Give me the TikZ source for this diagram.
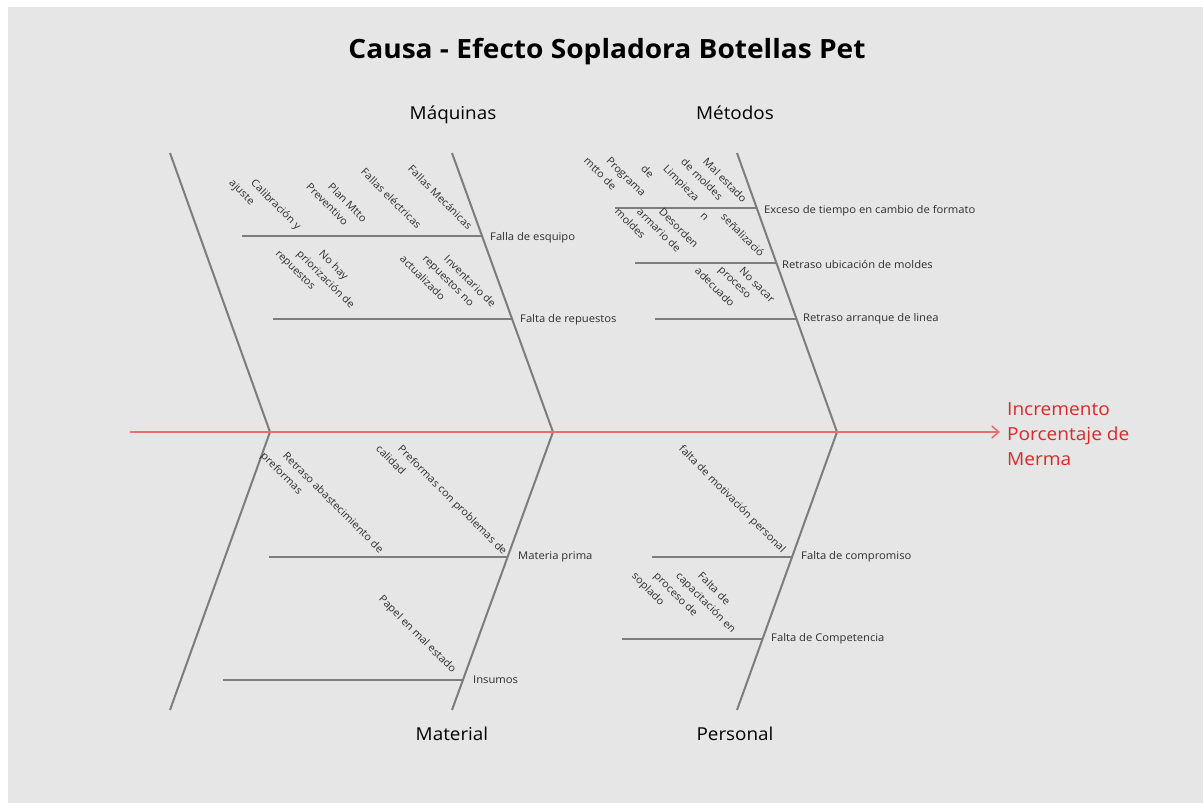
\documentclass[tikz,border=0pt]{standalone}
\usepackage{fontspec}
\setmainfont{Open Sans}[FakeStretch=1.06]
\usetikzlibrary{arrows.meta}
\definecolor{bg}{RGB}{230,230,230}
\definecolor{bone}{RGB}{125,125,125}
\definecolor{spine}{RGB}{235,110,110}
\definecolor{effred}{RGB}{222,40,40}
\definecolor{lbl}{RGB}{45,45,45}
\newcommand\causetext[4]{%
  \foreach \ln [count=\i from 0] in {#4} {
    \node[subtext] (#1-\i) at ({#2-22*\i},#3) {\ln};
  }}
\begin{document}
\begin{tikzpicture}[x=1pt,y=-1pt,
  bonestyle/.style={draw=bone,line width=2pt},
  branchstyle/.style={draw=bone,line width=2.4pt},
  brlabel/.style={anchor=west,inner sep=0pt,font=\fontsize{10.6}{12}\selectfont,text=lbl},
  subtext/.style={rotate=-45,anchor=north west,inner sep=0pt,font=\fontsize{10.4}{12}\selectfont,text=lbl},
  catlabel/.style={anchor=base,inner sep=0pt,font=\fontsize{17.8}{20}\selectfont,text=black},
  efflabel/.style={anchor=base west,inner sep=0pt,font=\fontsize{18}{20}\selectfont,text=effred},
]
\fill[white] (0,0) rectangle (1203,803);
\fill[bg] (8,7) rectangle (1203,803);
\useasboundingbox (0,0) rectangle (1203,803);

\node[anchor=base,inner sep=0pt,font=\fontsize{26.5}{30}\selectfont\bfseries] (title) at (607,58) {Causa - Efecto Sopladora Botellas Pet};

% bones
\coordinate (t1) at (170,153); \coordinate (v1) at (270,432); \coordinate (b1) at (170,710);
\coordinate (t2) at (452,153); \coordinate (v2) at (553,432); \coordinate (b2) at (452,710);
\coordinate (t3) at (737,153); \coordinate (v3) at (837,432); \coordinate (b3) at (737,710);
\draw[bonestyle] (t1) -- (v1) -- (b1);
\draw[bonestyle] (t2) -- (v2) -- (b2);
\draw[bonestyle] (t3) -- (v3) -- (b3);

% spine
\coordinate (tail) at (130,432); \coordinate (head) at (1000,432);
\draw[draw=spine,line width=2.2pt,-{Straight Barb[length=7pt,width=12pt,line width=1.6pt]}] (tail) -- (head);

% categories
\node[catlabel] (cMaq) at (453,119) {Máquinas};
\node[catlabel] (cMet) at (735,119) {Métodos};
\node[catlabel] (cMat) at (452,740) {Material};
\node[catlabel] (cPer) at (735,740) {Personal};

% effect
\node[efflabel] (eff1) at (1007,415) {Incremento};
\node[efflabel] (eff2) at (1007,440) {Porcentaje de};
\node[efflabel] (eff3) at (1007,465) {Merma};

% branches
\coordinate (fe0) at (242,236); \coordinate (fe1) at (482,236);
\coordinate (fr0) at (273,319); \coordinate (fr1) at (512,319);
\coordinate (ex0) at (615,208); \coordinate (ex1) at (757,208);
\coordinate (ru0) at (635,263); \coordinate (ru1) at (777,263);
\coordinate (ra0) at (655,319); \coordinate (ra1) at (797,319);
\coordinate (mp0) at (269,557); \coordinate (mp1) at (508,557);
\coordinate (in0) at (223,680); \coordinate (in1) at (464,680);
\coordinate (fc0) at (652,557); \coordinate (fc1) at (793,557);
\coordinate (fk0) at (622,639); \coordinate (fk1) at (763,639);
\foreach \b in {fe,fr,ex,ru,ra,mp,in,fc,fk} \draw[branchstyle] (\b0) -- (\b1);

\node[brlabel] (lfe) at (490,238) {Falla de esquipo};
\node[brlabel] (lfr) at (520,320) {Falta de repuestos};
\node[brlabel] (lex) at (764,211) {Exceso de tiempo en cambio de formato};
\node[brlabel] (lru) at (782,264) {Retraso ubicación de moldes};
\node[brlabel] (lra) at (803,319) {Retraso arranque de linea};
\node[brlabel] (lmp) at (518,557) {Materia prima};
\node[brlabel] (lin) at (473,680) {Insumos};
\node[brlabel] (lfc) at (801,557) {Falta de compromiso};
\node[brlabel] (lfk) at (771,639) {Falta de Competencia};

% sub-causes
\causetext{s1}{256}{178}{Calibración y,ajuste}
\causetext{s2}{333}{182}{Plan Mtto,Preventivo}
\causetext{s3}{366}{167}{Fallas eléctricas}
\causetext{s4}{413}{164}{Fallas Mecánicas}
\causetext{s5}{324}{249}{No hay,priorización de,repuestos}
\causetext{s6}{449}{254}{Inventario de,repuestos no,actualizado}
\causetext{s7}{611}{156}{Programa,mtto de}
\causetext{s8}{668}{164}{Limpieza,de}
\causetext{s9}{708}{157}{Mal estado,de moldes}
\causetext{s10}{664}{207}{Desorden,armario de,moldes}
\causetext{s11}{726}{212}{señalizació,n}
\causetext{s12}{744}{266}{No sacar,proceso,adecuado}
\causetext{s13}{288}{451}{Retraso abastecimiento de,preformas}
\causetext{s14}{403}{444}{Preformas con problemas de,calidad}
\causetext{s15}{384}{594}{Papel en mal estado}
\causetext{s16}{684}{444}{falta de motivación personal}
\causetext{s17}{703}{571}{Falta de,capacitación en,proceso de,soplado}
\end{tikzpicture}
\end{document}
